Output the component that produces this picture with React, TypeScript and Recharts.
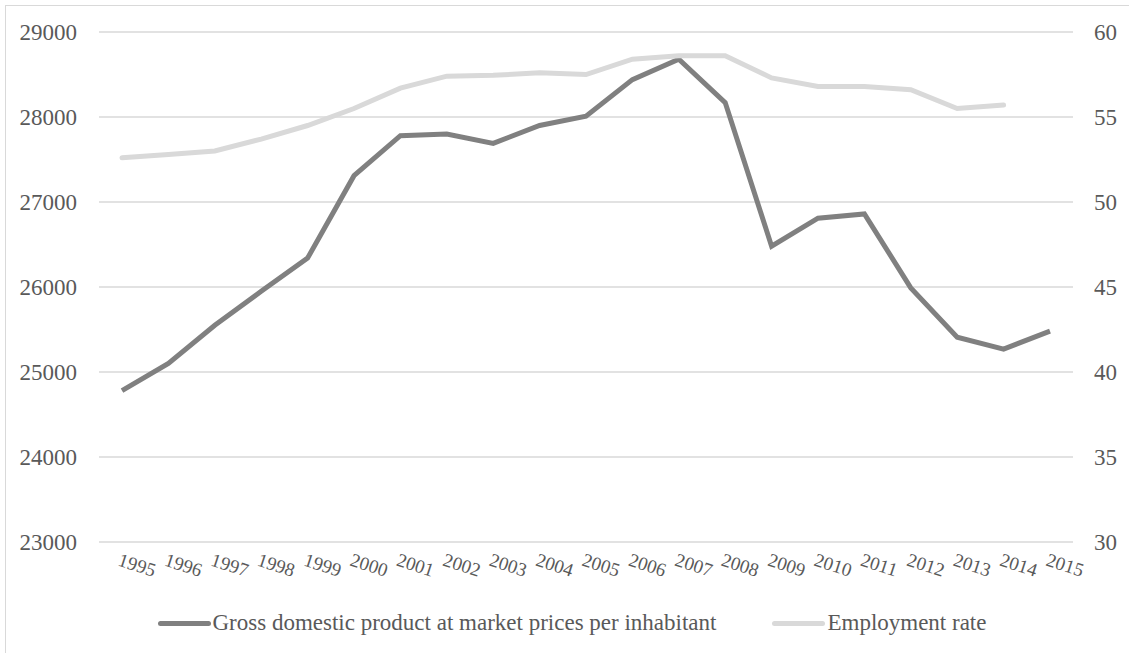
import { LineChart, Line, XAxis, YAxis, CartesianGrid, Legend } from 'recharts'

const years = [
  '1995', '1996', '1997', '1998', '1999', '2000', '2001', '2002', '2003', '2004', '2005',
  '2006', '2007', '2008', '2009', '2010', '2011', '2012', '2013', '2014', '2015',
]

// GDP at market prices per inhabitant (left axis)
const gdp = [
  24780, 25100, 25550, 25950, 26340, 27310, 27780, 27800, 27690, 27900, 28010,
  28440, 28680, 28170, 26480, 26810, 26860, 25990, 25410, 25270, 25480,
]

// employment rate (right axis), no value for 2015
const employment: (number | null)[] = [
  52.6, 52.8, 53.0, 53.7, 54.5, 55.5, 56.7, 57.4, 57.45, 57.6, 57.5,
  58.4, 58.6, 58.6, 57.3, 56.8, 56.8, 56.6, 55.5, 55.7, null,
]

const gdpTicks = [23000, 24000, 25000, 26000, 27000, 28000, 29000]
const rateTicks = [30, 35, 40, 45, 50, 55, 60]

const GDP_NAME = 'Gross domestic product at market prices per inhabitant'
const RATE_NAME = 'Employment rate'

const data = years.map((year, i) => ({
  year,
  gdp: gdp[i],
  rate: employment[i],
}))

const FONT = 'Liberation Serif, Tinos, DejaVu Serif, serif'
const TEXT = '#595959'

const YearTick = ({ x, y, payload }: any) => (
  <text
    x={x}
    y={y}
    dy={16}
    transform={`rotate(18, ${x}, ${y})`}
    textAnchor="start"
    style={{ fontFamily: FONT }}
    fontSize={19}
    fill={TEXT}
  >
    {payload.value}
  </text>
)

const ChartLegend = () => {
  const items = [
    { name: GDP_NAME, color: '#808080' },
    { name: RATE_NAME, color: '#d9d9d9' },
  ]
  return (
    <div
      style={{
        display: 'flex',
        justifyContent: 'center',
        alignItems: 'center',
        height: 40,
        gap: 56,
        fontFamily: FONT,
        fontSize: 23,
        color: TEXT,
        paddingLeft: 15,
      }}
    >
      {items.map((it) => (
        <div key={it.name} style={{ display: 'flex', alignItems: 'center' }}>
          <span
            style={{
              display: 'inline-block',
              width: 53,
              height: 5,
              borderRadius: 3,
              background: it.color,
              marginRight: 2,
            }}
          />
          <span>{it.name}</span>
        </div>
      ))}
    </div>
  )
}

export default function App() {
  return (
    <div
      style={{
        position: 'absolute',
        left: 0,
        top: 0,
        width: 1129,
        height: 653,
        overflow: 'hidden',
        background: '#fff',
        fontFamily: FONT,
      }}
    >
      {/* chart frame, runs off the right and bottom edge */}
      <div
        style={{
          position: 'absolute',
          left: 5,
          top: 5,
          width: 1200,
          height: 700,
          border: '1px solid #d9d9d9',
        }}
      />
      <LineChart
        width={1129}
        height={653}
        data={data}
        margin={{ top: 32, right: 0, left: 0, bottom: 10 }}
        style={{ position: 'absolute', left: 0, top: 0 }}
      >
        <CartesianGrid vertical={false} stroke="#d9d9d9" strokeWidth={1.3} yAxisId="left" />
        <XAxis
          dataKey="year"
          axisLine={false}
          tickLine={false}
          interval={0}
          height={61}
          padding={{ left: 23, right: 23 }}
          tick={<YearTick />}
        />
        <YAxis
          yAxisId="left"
          width={99}
          domain={[23000, 29000]}
          ticks={gdpTicks}
          axisLine={false}
          tickLine={false}
          tickMargin={16}
          tick={{ style: { fontFamily: FONT }, fontFamily: FONT, fontSize: 23, fill: TEXT }}
        />
        <YAxis
          yAxisId="right"
          orientation="right"
          width={56}
          domain={[30, 60]}
          ticks={rateTicks}
          axisLine={false}
          tickLine={false}
          tickMargin={15}
          tick={{ style: { fontFamily: FONT }, fontFamily: FONT, fontSize: 23, fill: TEXT, textAnchor: 'start' }}
        />
        <Legend verticalAlign="bottom" content={<ChartLegend />} />
        <Line
          yAxisId="left"
          dataKey="gdp"
          name={GDP_NAME}
          stroke="#808080"
          strokeWidth={5}
          dot={false}
          isAnimationActive={false}
        />
        <Line
          yAxisId="right"
          dataKey="rate"
          name={RATE_NAME}
          stroke="#d9d9d9"
          strokeWidth={5}
          strokeLinecap="round"
          dot={false}
          isAnimationActive={false}
        />
      </LineChart>
    </div>
  )
}
